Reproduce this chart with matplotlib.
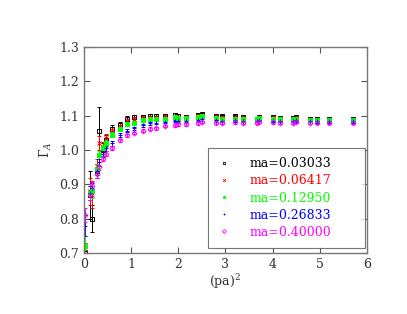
import matplotlib
matplotlib.use('Agg')
import matplotlib.pyplot as plt
import numpy as np

plt.rcParams['font.family'] = 'DejaVu Serif'
plt.rcParams['mathtext.fontset'] = 'dejavuserif'

p2 = [0.02, 0.12, 0.17, 0.27, 0.33, 0.41, 0.47, 0.59, 0.77, 0.91, 1.06, 1.26,
      1.40, 1.53, 1.72, 1.93, 2.00, 2.16, 2.42, 2.50, 2.80, 2.92, 3.20, 3.37,
      3.66, 3.71, 4.00, 4.15, 4.43, 4.49, 4.79, 4.93, 5.19, 5.70]

labels = ['ma=0.03033', 'ma=0.06417', 'ma=0.12950', 'ma=0.26833', 'ma=0.40000']

g_black = [0.70, 0.87, 0.80, 0.94, 1.056, 1.00, 1.03, 1.062, 1.073, 1.092, 1.097, 1.097,
           1.100, 1.100, 1.100, 1.103, 1.100, 1.097, 1.103, 1.104, 1.100, 1.098, 1.098, 1.096,
           1.092, 1.097, 1.095, 1.094, 1.094, 1.095, 1.092, 1.091, 1.090, 1.090]
g_red = [0.72, 0.88, 0.87, 0.955, 1.02, 1.01, 1.035, 1.058, 1.070, 1.085, 1.090, 1.093,
         1.096, 1.095, 1.097, 1.098, 1.096, 1.095, 1.100, 1.102, 1.098, 1.094, 1.096, 1.094,
         1.092, 1.095, 1.094, 1.093, 1.092, 1.094, 1.091, 1.090, 1.089, 1.089]
g_green = [0.72, 0.875, 0.88, 0.945, 0.985, 1.005, 1.02, 1.045, 1.062, 1.075, 1.080, 1.087,
           1.090, 1.092, 1.092, 1.095, 1.094, 1.093, 1.095, 1.098, 1.093, 1.092, 1.092, 1.091,
           1.090, 1.093, 1.091, 1.090, 1.090, 1.092, 1.089, 1.088, 1.088, 1.087]
g_blue = [0.78, 0.875, 0.89, 0.94, 0.965, 0.99, 1.005, 1.02, 1.045, 1.057, 1.063, 1.072,
          1.078, 1.080, 1.082, 1.085, 1.085, 1.085, 1.088, 1.090, 1.087, 1.086, 1.087, 1.086,
          1.085, 1.088, 1.086, 1.085, 1.085, 1.087, 1.085, 1.084, 1.084, 1.084]
g_magenta = [0.81, 0.87, 0.895, 0.93, 0.95, 0.975, 0.99, 1.005, 1.028, 1.043, 1.050, 1.057,
             1.062, 1.063, 1.070, 1.072, 1.075, 1.075, 1.078, 1.082, 1.080, 1.079, 1.081, 1.080,
             1.080, 1.083, 1.081, 1.080, 1.080, 1.082, 1.080, 1.080, 1.080, 1.080]

err_black = [0.01, 0.07, 0.04, 0.02, 0.07, 0.02, 0.015, 0.012, 0.01, 0.008, 0.006, 0.005] + [0.004] * 22
err_red = [0.01, 0.04, 0.04, 0.02, 0.02, 0.015, 0.012, 0.01, 0.008, 0.007, 0.005, 0.005] + [0.004] * 22
err_green = [0.03, 0.02, 0.02, 0.015, 0.012, 0.01, 0.01, 0.008, 0.007, 0.006, 0.005, 0.004] + [0.004] * 22
err_blue = [0.03, 0.02, 0.015, 0.012, 0.01, 0.008, 0.008, 0.007, 0.006, 0.005, 0.004, 0.004] + [0.004] * 22
err_magenta = [0.02, 0.015, 0.012, 0.01, 0.008, 0.007, 0.007, 0.006, 0.005, 0.004, 0.004, 0.004] + [0.004] * 22

series = [
    (g_black, err_black, 'black', 's', 'none'),
    (g_red, err_red, '#ff0000', 'x', '#ff0000'),
    (g_green, err_green, '#00ff00', 's', '#00ff00'),
    (g_blue, err_blue, '#0000ff', '+', '#0000ff'),
    (g_magenta, err_magenta, '#ff00ff', 'D', 'none'),
]

fig = plt.figure(figsize=(4.07, 3.14), dpi=100)
ax = fig.add_axes([0.206, 0.194, 0.696, 0.656])

handles = []
for (vals, errs, col, mk, fc), lab in zip(series, labels):
    ax.errorbar(p2, vals, yerr=errs, fmt=mk, color=col, mfc=fc, mec=col,
                ms=2.5, mew=0.7, elinewidth=0.7, capsize=1.5, capthick=0.7)
    h, = ax.plot([], [], linestyle='none', marker=mk, color=col, mfc=fc,
                 mec=col, ms=2.0, mew=0.6, label=lab)
    handles.append(h)

ax.set_xlim(0, 6)
ax.set_ylim(0.7, 1.3)
ax.set_xticks(range(7))
ax.set_yticks(np.arange(0.7, 1.31, 0.1))
ax.set_yticklabels(['0.7', '0.8', '0.9', '1.0', '1.1', '1.2', '1.3'])
ax.tick_params(direction='in', top=True, right=True, length=4, width=0.8,
               color='#555555', labelcolor='#333333', labelsize=9)
for sp in ax.spines.values():
    sp.set_color('#777777')
    sp.set_linewidth(1.0)

ax.set_xlabel('(pa)$^2$', fontsize=9, color='#333333', labelpad=1)
ax.set_ylabel(r'$\Gamma_A$', fontsize=9, color='#333333', labelpad=4)

leg = ax.legend(handles=handles, loc='lower left', bbox_to_anchor=(0.438, 0.024, 0.555, 0.476),
                mode='expand', fontsize=9, labelcolor='linecolor', frameon=True, fancybox=False,
                edgecolor='#555555', numpoints=1, handlelength=1.0, handletextpad=1.55,
                labelspacing=0.33, borderpad=0.75, borderaxespad=0)
leg.get_frame().set_linewidth(0.8)

fig.savefig('out.png', dpi=100)
